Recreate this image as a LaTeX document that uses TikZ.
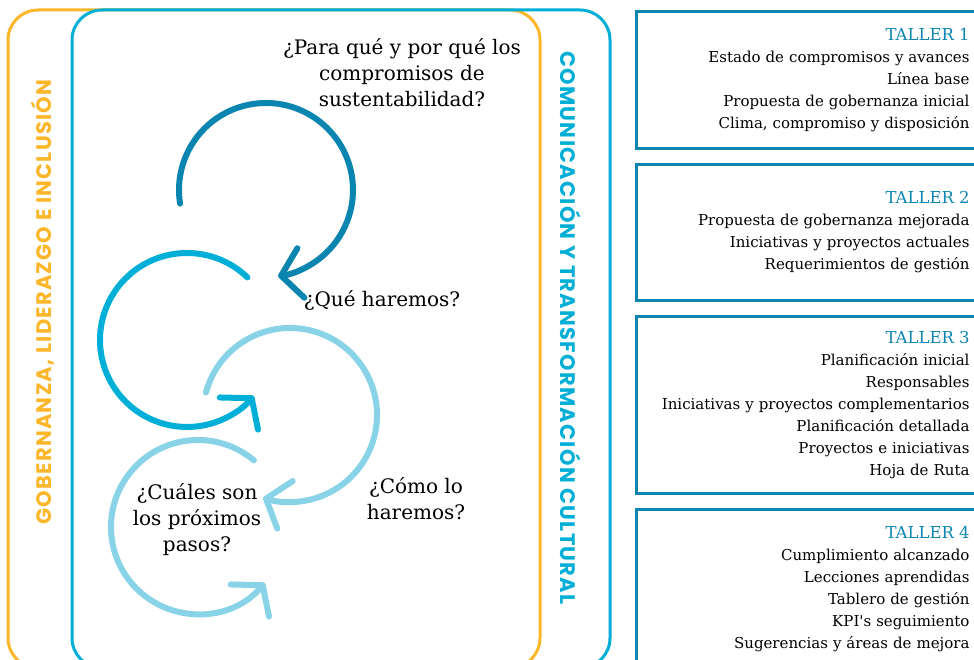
\documentclass[tikz,border=0pt]{standalone}
\usepackage{fontspec}
\setmainfont{DejaVu Serif}
\newfontfamily\sidefont{Poppins}[LetterSpace=6]
\usetikzlibrary{arrows.meta, positioning}

\definecolor{ejeorange}{HTML}{FBB62A}
\definecolor{ejeblue}{HTML}{00AED6}
\definecolor{darkloop}{HTML}{0A85B0}
\definecolor{midloop}{HTML}{00AFD8}
\definecolor{lightloop}{HTML}{89D3E8}
\definecolor{tallerblue}{HTML}{0C86B0}

\newcommand{\tallertitle}[1]{{\color{tallerblue}\fontsize{16.5}{22}\selectfont #1}}

\begin{document}
\begin{tikzpicture}[x=1pt, y=-1pt,
    frame/.style={line width=3pt, rounded corners=30pt},
    loop/.style={line width=6pt, line cap=round, -{Straight Barb[length=20pt, width=50pt, round]}},
    question/.style={align=center, inner sep=0pt, font=\fontsize{20}{26}\selectfont},
    axis/.style={inner sep=0pt, font=\sidefont\bfseries\fontsize{21}{21}\selectfont},
    taller/.style={draw=tallerblue, line width=3pt, text width=316pt, inner xsep=17pt, align=right, font=\fontsize{15}{22}\selectfont}
]
    \useasboundingbox (0,0) rectangle (974,660);

    % Frames
    \draw [frame, ejeorange] (8,10) rectangle (540,668);
    \draw [frame, ejeblue] (72,10) rectangle (610,668);

    % Axis labels
    \node [axis, text=ejeorange, rotate=90] (gov) at (43,302) {GOBERNANZA, LIDERAZGO E INCLUSIÓN};
    \node [axis, text=ejeblue, rotate=-90] (com) at (571,328) {COMUNICACIÓN Y TRANSFORMACIÓN CULTURAL};

    % Loops
    \coordinate (c1) at (266,190);
    \coordinate (c2) at (187,340);
    \coordinate (c3) at (290,415);
    \coordinate (c4) at (198,527);
    \draw [loop, darkloop] (c1) ++(171:87) arc [start angle=171, end angle=442, radius=87];
    \draw [loop, midloop] (c2) ++(-46:87) arc [start angle=-46, end angle=-320, radius=87];
    \draw [loop, lightloop] (c3) ++(-165:87) arc [start angle=-165, end angle=108, radius=87];
    \draw [loop, lightloop] (c4) ++(-50:87) arc [start angle=-50, end angle=-320, radius=87];

    % Questions
    \node [question] (why) at (402,73) {¿Para qué y por qué los\\compromisos de\\sustentabilidad?};
    \node [question] (what) at (382,300) {¿Qué haremos?};
    \node [question] (how) at (416,499) {¿Cómo lo\\haremos?};
    \node [question] (next) at (197,520) {¿Cuáles son\\los próximos\\pasos?};

    % Talleres
    \node [taller, anchor=north west, minimum height=137pt] (t1) at (635,10)
        {\tallertitle{TALLER 1}\\Estado de compromisos y avances\\Línea base\\Propuesta de gobernanza inicial\\Clima, compromiso y disposición};
    \node [taller, below=13pt of t1, minimum height=136pt] (t2)
        {\tallertitle{TALLER 2}\\Propuesta de gobernanza mejorada\\Iniciativas y proyectos actuales\\Requerimientos de gestión};
    \node [taller, below=13pt of t2, minimum height=177pt] (t3)
        {\tallertitle{TALLER 3}\\Planificación inicial\\Responsables\\Iniciativas y proyectos complementarios\\Planificación detallada\\Proyectos e iniciativas\\Hoja de Ruta};
    \node [taller, below=13pt of t3, minimum height=160pt] (t4)
        {\tallertitle{TALLER 4}\\Cumplimiento alcanzado\\Lecciones aprendidas\\Tablero de gestión\\KPI\textquotesingle s seguimiento\\Sugerencias y áreas de mejora};
\end{tikzpicture}
\end{document}
